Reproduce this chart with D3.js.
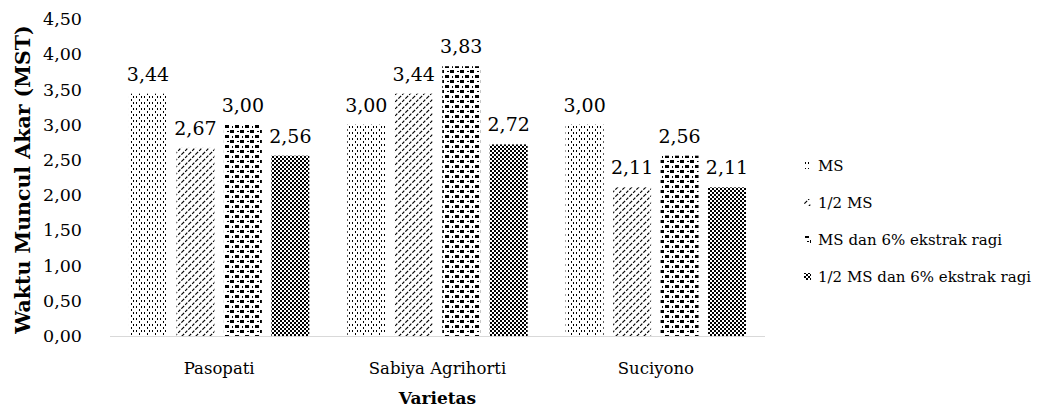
<!DOCTYPE html>
<html><head><meta charset="utf-8">
<script src="https://cdn.jsdelivr.net/npm/d3@7"></script>
<style>body{margin:0;background:#fff}svg{display:block}</style>
</head><body><svg id="c" width="1041" height="412"></svg>
<script>
const categories = ["Pasopati", "Sabiya Agrihorti", "Suciyono"];
const seriesNames = ["MS", "1/2 MS", "MS dan 6% ekstrak ragi", "1/2 MS dan 6% ekstrak ragi"];
const msValues = [3.44, 3.00, 3.00];
const halfMsValues = [2.67, 3.44, 2.11];
const msRagiValues = [3.00, 3.83, 2.56];
const halfMsRagiValues = [2.56, 2.72, 2.11];
const yTicks = [0, 0.5, 1, 1.5, 2, 2.5, 3, 3.5, 4, 4.5];
const yTitle = "Waktu Muncul Akar (MST)";
const xTitle = "Varietas";

(function () {
const seriesValues = [msValues, halfMsValues, msRagiValues, halfMsRagiValues];
const font = "'DejaVu Serif', 'Liberation Serif', serif";
const svg = d3.select("#c");
const defs = svg.append("defs");

function pat(id, w, h, rects, path) {
  const p = defs.append("pattern").attr("id", id).attr("patternUnits", "userSpaceOnUse")
    .attr("width", w).attr("height", h);
  p.append("rect").attr("width", w).attr("height", h).attr("fill", "#fff");
  rects.forEach(r => p.append("rect").attr("x", r[0]).attr("y", r[1]).attr("width", r[2]).attr("height", r[3]).attr("fill", "#000"));
  if (path) p.append("path").attr("d", path).attr("stroke", "#000").attr("stroke-width", 1.2).attr("fill", "none").attr("stroke-dasharray", "3,1.5");
}
pat("p0", 8, 6, [[0,0,1,2],[3,3,1,2],[5,0,1,2]]);
pat("p1", 7, 7, [], "M0,7 L7,0 M-1,1 L1,-1 M6,8 L8,6");
pat("p2", 10, 10, [[0,0,4,3],[5,5,4,3],[7,1,2,1],[2,6,1,2]]);
pat("p3", 4, 4, [[0,0,2,2],[2,2,2,2]]);

const pl = 110, pr = 765, pt = 19, pb = 336;
const x0 = d3.scaleBand().domain(categories).range([pl, pr]).padding(0);
const x1 = d3.scaleBand().domain(d3.range(seriesNames.length)).range([0, x0.bandwidth()])
  .paddingInner(0.2).paddingOuter(0.4);
const y = d3.scaleLinear().domain([0, 4.5]).range([pb, pt]);

const g = svg.append("g");
categories.forEach((c, ci) => {
  seriesValues.forEach((vals, si) => {
    const v = vals[ci];
    const bx = x0(c) + x1(si);
    g.append("rect").attr("x", bx).attr("y", y(v)).attr("width", x1.bandwidth())
      .attr("height", y(0) - y(v)).attr("fill", `url(#p${si})`);
    g.append("text").attr("x", bx + x1.bandwidth() / 2).attr("y", y(v) - 13)
      .attr("text-anchor", "middle").attr("font-family", font).attr("font-size", 19)
      .attr("fill", "#000").text(d3.format(".2f")(v).replace(".", ","));
  });
});

svg.append("line").attr("x1", pl).attr("x2", pr).attr("y1", pb + 0.5).attr("y2", pb + 0.5)
  .attr("stroke", "#d9d9d9").attr("stroke-width", 1.2);

const yAxis = d3.axisLeft(y).tickValues(yTicks).tickSize(0).tickPadding(0)
  .tickFormat(d => d3.format(".2f")(d).replace(".", ","));
const ya = svg.append("g").attr("transform", `translate(82,0)`).call(yAxis);
ya.select(".domain").remove();
ya.selectAll("text").attr("font-family", font).attr("font-size", 17.5).attr("fill", "#000");

const xAxis = d3.axisBottom(x0).tickSize(0).tickPadding(0);
const xa = svg.append("g").attr("transform", `translate(0,${pb + 26})`).call(xAxis);
xa.select(".domain").remove();
xa.selectAll("text").attr("font-family", font).attr("font-size", 16.5).attr("fill", "#000");

svg.append("text").attr("transform", `translate(30,${(pt + pb) / 2 + 2}) rotate(-90)`)
  .attr("text-anchor", "middle").attr("font-family", font).attr("font-weight", "bold")
  .attr("font-size", 20.5).text(yTitle);
svg.append("text").attr("x", (pl + pr) / 2).attr("y", 404)
  .attr("text-anchor", "middle").attr("font-family", font).attr("font-weight", "bold")
  .attr("font-size", 17).text(xTitle);

const lg = svg.append("g");
seriesNames.forEach((n, i) => {
  const ly = 166 + i * 37;
  lg.append("rect").attr("x", 804).attr("y", ly - 4).attr("width", 7).attr("height", 7)
    .attr("fill", `url(#p${i})`);
  lg.append("text").attr("x", 818).attr("y", ly + 5).attr("font-family", font)
    .attr("font-size", 15).attr("fill", "#000").text(n);
});
})();
</script></body></html>
